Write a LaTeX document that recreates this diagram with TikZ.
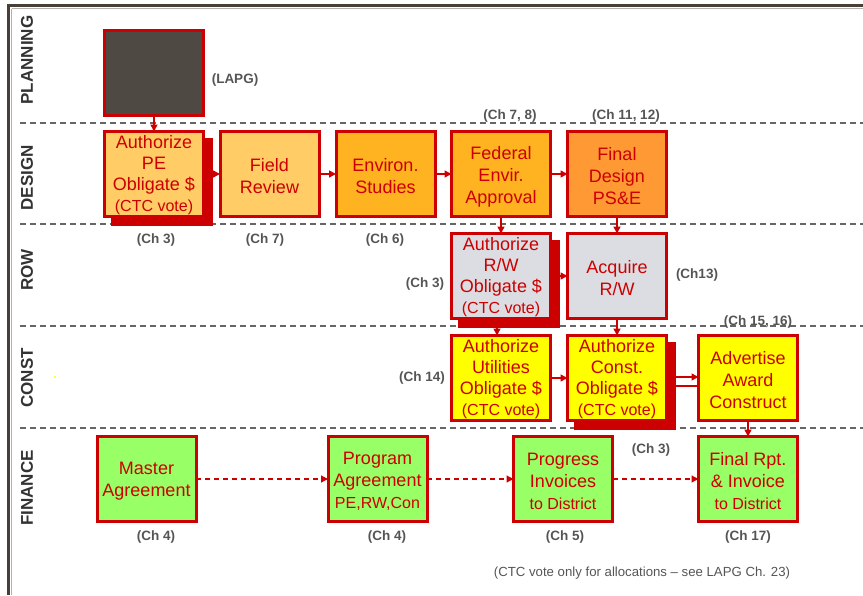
\documentclass[tikz,border=0pt]{standalone}
\usepackage{fontspec}
\setmainfont{Liberation Sans}
\usetikzlibrary{arrows.meta,shadows}
\definecolor{cred}{HTML}{CC0000}
\definecolor{darkbox}{HTML}{4F4944}
\definecolor{lorange}{HTML}{FFCC66}
\definecolor{morange}{HTML}{FFB321}
\definecolor{dorange}{HTML}{FF9933}
\definecolor{graybox}{HTML}{DCDDE2}
\definecolor{ybox}{HTML}{FFFF00}
\definecolor{gbox}{HTML}{99FF66}
\definecolor{labgray}{HTML}{555555}
\definecolor{lanegray}{HTML}{333333}
\definecolor{sepgray}{HTML}{666666}
\definecolor{frame}{HTML}{4A3F38}
\newcommand{\dn}[1]{\rule{0pt}{#1pt}}
\newcommand{\sm}{\fontsize{16}{19}\selectfont}
\begin{document}
\begin{tikzpicture}[x=1pt,y=-1pt,
 box/.style={draw=cred, line width=3pt, minimum width=99pt, minimum height=85pt, inner sep=0pt, outer sep=0pt, align=center, text=cred, font=\fontsize{18}{22}\selectfont},
 fbox/.style={box, font=\fontsize{18}{21}\selectfont},
 shbox/.style={fbox, general shadow={fill=cred, draw=cred, line width=3pt, shadow xshift=8pt, shadow yshift=-8pt}},
 ch/.style={font=\fontsize{13.5}{15}\selectfont\bfseries, text=labgray, inner sep=0pt},
 lane/.style={font=\fontsize{17}{20}\selectfont\bfseries, text=lanegray, rotate=90, inner sep=0pt},
 sepline/.style={draw=sepgray, line width=1.2pt, dash pattern=on 6pt off 4pt},
 arr/.style={draw=cred, line width=1.5pt, -{Triangle[length=7pt,width=7pt]}},
 darr/.style={arr, dash pattern=on 5pt off 4pt, line width=1.2pt}]
\useasboundingbox (0,0) rectangle (863,595);
% frame
\draw[frame, line width=2.6pt] (8.5,5.3) -- (863,5.3);
\draw[frame, line width=2.6pt] (8.5,4) -- (8.5,595);
\draw[gray!60, line width=1pt] (11.5,8.5) -- (863,8.5);
\draw[gray!60, line width=1pt] (11.5,8.5) -- (11.5,595);
% lane separators
\draw[sepline] (20,123) -- (863,123);
\draw[sepline] (20,224) -- (863,224);
\draw[sepline] (20,326) -- (863,326);
\draw[sepline] (20,428) -- (863,428);
% lane labels
\node[lane] (lplan) at (27,60) {PLANNING};
\node[lane] (ldes) at (27,178) {DESIGN};
\node[lane] (lrow) at (27,270) {ROW};
\node[lane] (lcon) at (27,378) {CONST};
\node[lane] (lfin) at (27,488) {FINANCE};
\fill[ybox] (55,377) circle (1.2);
% boxes
\node[box, fill=darkbox] (lapg) at (154,73) {};
\node[shbox, fill=lorange] (ape) at (154,174) {\dn{16}Authorize\\PE\\Obligate \$\\{\sm (CTC vote)}};
\node[box, fill=lorange] (fr) at (269.5,174) {\dn{17}Field\\Review};
\node[box, fill=morange] (env) at (385.5,174) {\dn{17}Environ.\\Studies};
\node[box, fill=morange] (fed) at (501,174) {\dn{18}Federal\\Envir.\\Approval};
\node[box, fill=dorange] (fin) at (617,174) {\dn{18}Final\\Design\\PS\&E};
\node[shbox, fill=graybox] (arw) at (501,276) {\dn{16}Authorize\\R/W\\Obligate \$\\{\sm (CTC vote)}};
\node[box, fill=graybox] (acq) at (617,276) {\dn{17}Acquire\\R/W};
\node[fbox, fill=ybox] (aut) at (501,378) {\dn{16}Authorize\\Utilities\\Obligate \$\\{\sm (CTC vote)}};
\node[shbox, fill=ybox] (acs) at (617,378) {\dn{16}Authorize\\Const.\\Obligate \$\\{\sm (CTC vote)}};
\node[box, fill=ybox] (adv) at (748,378) {\dn{18}Advertise\\Award\\Construct};
\node[box, fill=gbox] (mas) at (146.5,479) {\dn{17}Master\\Agreement};
\node[box, fill=gbox] (pro) at (377.5,479) {\dn{17}Program\\Agreement\\{\sm PE,RW,Con}};
\node[box, fill=gbox] (prg) at (563,479) {\dn{17}Progress\\Invoices\\{\sm to District}};
\node[box, fill=gbox] (frp) at (748,479) {\dn{17}Final Rpt.\\\& Invoice\\{\sm to District}};
% connectors
\draw[arr] (lapg.south) -- (ape.north);
\draw[arr] ([xshift=9.5pt]ape.east) -- (fr.west);
\draw[arr] (fr.east) -- (env.west);
\draw[arr] (env.east) -- (fed.west);
\draw[arr] (fed.east) -- (fin.west);
\draw[arr] (fed.south) -- (arw.north);
\draw[arr] (fin.south) -- (acq.north);
\draw[arr] ([xshift=9.5pt]arw.east) -- (acq.west);
\draw[arr] ([xshift=-4pt,yshift=-9.5pt]arw.south) -- ([xshift=-4pt]aut.north);
\draw[arr] (acq.south) -- (acs.north);
\draw[arr] (aut.east) -- (acs.west);
\draw[arr] ([xshift=9.5pt,yshift=1pt]acs.east) -- ([yshift=1pt]adv.west);
\draw[draw=cred, line width=1.5pt] ([xshift=9.5pt,yshift=-8pt]acs.east) -- ([yshift=-8pt]adv.west);
\draw[arr] (adv.south) -- (frp.north);
\draw[darr] (mas.east) -- (pro.west);
\draw[darr] (pro.east) -- (prg.west);
\draw[darr] (prg.east) -- (frp.west);
% chapter labels
\node[ch] (c0) at (235,80) {(LAPG)};
\node[ch] (c1) at (156,240) {(Ch 3)};
\node[ch] (c2) at (265,240) {(Ch 7)};
\node[ch] (c3) at (385,240) {(Ch 6)};
\node[ch] (c4) at (510,116) {(Ch 7, 8)};
\node[ch] (c5) at (626,116) {(Ch 11, 12)};
\node[ch] (c6) at (425,284) {(Ch 3)};
\node[ch] (c7) at (697,275) {(Ch13)};
\node[ch] (c8) at (422,378) {(Ch 14)};
\node[ch] (c9) at (758,322) {(Ch 15, 16)};
\node[ch] (c10) at (156,537) {(Ch 4)};
\node[ch] (c11) at (387,537) {(Ch 4)};
\node[ch] (c12) at (565,537) {(Ch 5)};
\node[ch] (c13) at (651,450) {(Ch 3)};
\node[ch] (c14) at (748,537) {(Ch 17)};
\node[font=\fontsize{13.2}{15}\selectfont, text=labgray, inner sep=0pt] (foot) at (642,573) {(CTC vote only for allocations -- see LAPG Ch. 23)};
\end{tikzpicture}
\end{document}
